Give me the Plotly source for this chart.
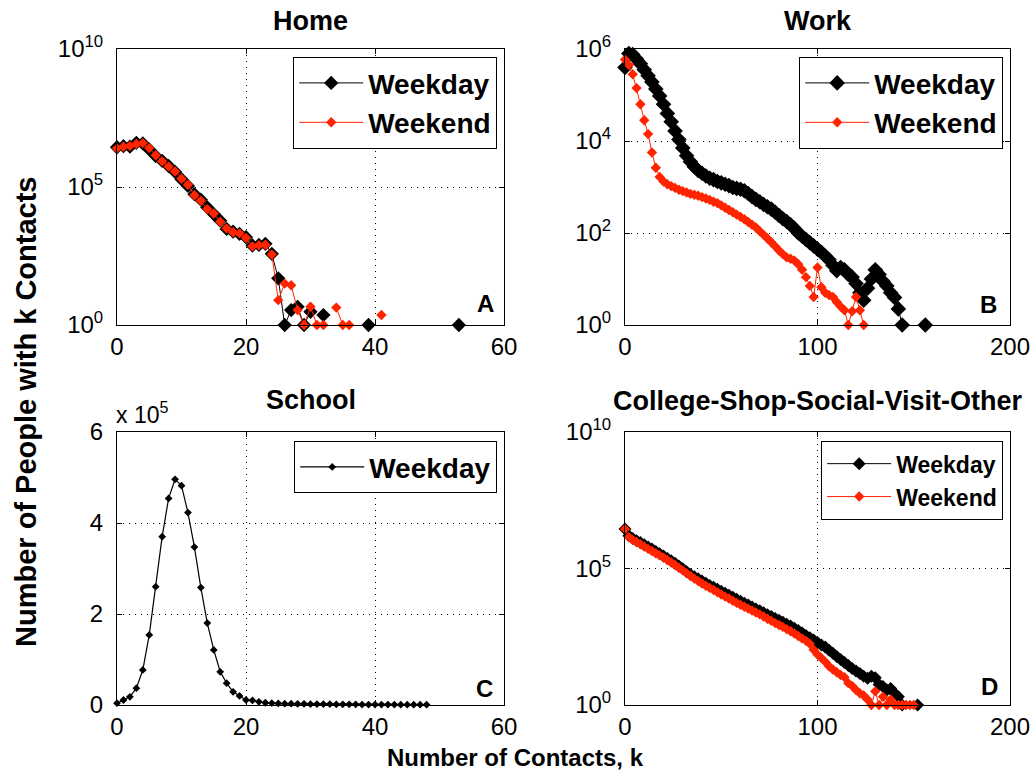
import plotly.graph_objects as go

W, H = 1033, 778
RED = "#ff2400"
FONT = "Liberation Sans"

# ---------------- data (log10 of counts for log panels) ----------------
# Panel A: Home
home_k_weekday = [0, 1, 2, 3, 4, 5, 6, 7, 8, 9, 10, 11, 12, 13, 14, 15, 16, 17, 18, 19, 20,
                  21, 22, 23, 24, 25, 26, 27, 28, 29, 30, 31, 32, 33, 39, 40, 53]
home_weekday_log10 = [6.44, 6.48, 6.46, 6.60, 6.58, 6.36, 6.12, 5.95, 5.76, 5.55, 5.28,
                      5.04, 4.74, 4.54, 4.26, 4.02, 3.78, 3.48, 3.38, 3.30, 3.18,
                      2.88, 2.90, 2.94, 2.58, 1.69, 0.0, 0.54, 0.66, 0.0, 0.48, None, 0.36, None,
                      0.0, None, 0.0]
home_k_weekend = [0, 1, 2, 3, 4, 5, 6, 7, 8, 9, 10, 11, 12, 13, 14, 15, 16, 17, 18, 19, 20,
                  21, 22, 23, 24, 25, 26, 27, 28, 29, 30, 31, 32, 33, 34, 35, 36, 37, 41]
home_weekend_log10 = [6.40, 6.46, 6.49, 6.56, 6.59, 6.41, 6.15, 5.93, 5.74, 5.56, 5.30,
                      5.08, 4.70, 4.50, 4.20, 4.04, 3.74, 3.50, 3.36, 3.32, 3.15,
                      2.85, 2.89, 2.91, 2.55, 0.90, 1.50, 1.44, 0.54, 0.0, 0.66, 0.0, 0.0, None,
                      0.63, 0.0, 0.0, None, 0.36]

# Panel B: Work
work_k_weekday = [0, 2, 4, 6, 8, 10, 12, 14, 16, 18, 20, 22, 24, 26, 28, 30, 32, 34, 36, 38,
                  40, 42, 44, 46, 48, 50, 52, 54, 56, 58, 60, 62, 64, 66, 68, 70, 72, 74, 76, 78,
                  80, 82, 84, 86, 88, 90, 92, 94, 96, 98, 100, 102, 104, 106, 108, 110, 112, 114,
                  116, 118, 120, 122, 124, 126, 128, 130, 132, 134, 136, 138, 140, 142, 144, 150, 156]
work_weekday_log10 = [5.60, 5.90, 5.88, 5.78, 5.68, 5.55, 5.42, 5.28, 5.13, 4.98,
                      4.80, 4.60, 4.42, 4.22, 4.03, 3.85, 3.68, 3.55, 3.44, 3.36,
                      3.30, 3.24, 3.19, 3.16, 3.12, 3.09, 3.06, 3.03, 2.99, 2.97,
                      2.95, 2.92, 2.86, 2.79, 2.73, 2.68, 2.62, 2.57, 2.52, 2.45,
                      2.38, 2.31, 2.25, 2.18, 2.10, 2.00, 1.93, 1.86, 1.79, 1.72,
                      1.65, 1.58, 1.50, 1.42, 1.30, 1.18, 1.25, 1.20, 1.10, 1.04,
                      0.90, 0.70, 0.54, 0.80, 1.00, 1.20, 1.10, 0.95, 0.85, 0.70,
                      0.60, 0.35, 0.0, None, 0.0]
work_k_weekend = [0, 2, 4, 6, 8, 10, 12, 14, 16, 18, 20, 22, 24, 26, 28, 30, 32, 34, 36, 38,
                  40, 42, 44, 46, 48, 50, 52, 54, 56, 58, 60, 62, 64, 66, 68, 70, 72, 74, 76, 78,
                  80, 82, 84, 86, 88, 90, 92, 94, 96, 98, 100, 102, 104, 106, 108, 110, 112, 114,
                  116, 118, 120, 122, 124]
work_weekend_log10 = [5.77, 5.65, 5.45, 5.15, 4.80, 4.45, 4.15, 3.75, 3.42, 3.22,
                      3.12, 3.06, 3.02, 2.98, 2.94, 2.91, 2.88, 2.85, 2.83, 2.81,
                      2.78, 2.75, 2.72, 2.68, 2.65, 2.60, 2.55, 2.50, 2.45, 2.40,
                      2.35, 2.30, 2.24, 2.18, 2.12, 2.04, 1.96, 1.88, 1.80, 1.71,
                      1.62, 1.54, 1.47, 1.44, 1.40, 1.32, 1.20, 1.04, 0.85, 0.61,
                      1.25, 0.82, 0.70, 0.65, 0.61, 0.50, 0.40, 0.32, 0.0, 0.30,
                      0.61, 0.32, 0.0]

# Panel C: School (number of people, linear)
school_k = [0, 1, 2, 3, 4, 5, 6, 7, 8, 9, 10, 11, 12, 13, 14, 15, 16, 17, 18, 19, 20,
            21, 22, 23, 24, 25, 26, 27, 28, 29, 30, 31, 32, 33, 34, 35, 36, 37, 38, 39, 40,
            41, 42, 43, 44, 45, 46, 47, 48]
school_weekday = [4000, 11000, 18000, 37000, 77000, 154000, 260000, 370000, 454000, 496000,
                  482000, 423000, 347000, 258000, 180000, 121000, 73000, 48000, 29000, 20000,
                  11000, 10000, 7000, 5000, 4000, 3500, 3000, 3000, 2500, 2500, 2000, 2000,
                  2000, 2000, 1500, 1500, 1500, 1500, 1000, 1000, 1000, 1000, 1000, 1000,
                  800, 800, 800, 800, 800]

# Panel D: College-Shop-Social-Visit-Other
other_k_weekday = [0, 2, 4, 6, 8, 10, 12, 14, 16, 18, 20, 22, 24, 26, 28, 30, 32, 34, 36, 38,
                   40, 42, 44, 46, 48, 50, 52, 54, 56, 58, 60, 62, 64, 66, 68, 70, 72, 74, 76, 78,
                   80, 82, 84, 86, 88, 90, 92, 94, 96, 98, 100, 102, 104, 106, 108, 110, 112, 114,
                   116, 118, 120, 122, 124, 126, 128, 130, 132, 134, 136, 138, 140, 142, 144, 148, 152]
other_weekday_log10 = [6.45, 6.20, 6.10, 6.02, 5.95, 5.87, 5.79, 5.71, 5.62, 5.54,
                       5.46, 5.37, 5.28, 5.19, 5.09, 4.99, 4.88, 4.78, 4.70, 4.62,
                       4.54, 4.46, 4.38, 4.31, 4.24, 4.17, 4.09, 4.02, 3.95, 3.87,
                       3.80, 3.73, 3.66, 3.59, 3.52, 3.45, 3.38, 3.31, 3.24, 3.17,
                       3.10, 3.03, 2.96, 2.89, 2.81, 2.73, 2.64, 2.55, 2.46, 2.38,
                       2.29, 2.20, 2.12, 2.01, 1.90, 1.78, 1.67, 1.56, 1.45, 1.34,
                       1.25, 1.15, 1.05, 0.98, 1.05, 1.00, 0.75, 0.68, 0.55, 0.60,
                       0.43, 0.30, 0.0, None, 0.0]
other_k_weekend = [0, 2, 4, 6, 8, 10, 12, 14, 16, 18, 20, 22, 24, 26, 28, 30, 32, 34, 36, 38,
                   40, 42, 44, 46, 48, 50, 52, 54, 56, 58, 60, 62, 64, 66, 68, 70, 72, 74, 76, 78,
                   80, 82, 84, 86, 88, 90, 92, 94, 96, 98, 100, 102, 104, 106, 108, 110, 112, 114,
                   116, 118, 120, 122, 124, 126, 128, 130, 132, 134, 136, 138, 140, 142, 144, 146,
                   148, 150]
other_weekend_log10 = [6.45, 6.15, 6.05, 5.97, 5.89, 5.80, 5.72, 5.64, 5.56, 5.48,
                       5.40, 5.31, 5.22, 5.13, 5.03, 4.93, 4.83, 4.73, 4.63, 4.54,
                       4.45, 4.37, 4.29, 4.21, 4.13, 4.05, 3.97, 3.90, 3.82, 3.74,
                       3.67, 3.60, 3.53, 3.46, 3.39, 3.32, 3.24, 3.16, 3.08, 3.00,
                       2.93, 2.86, 2.78, 2.70, 2.62, 2.53, 2.44, 2.35, 2.24, 2.02,
                       1.85, 1.72, 1.58, 1.42, 1.30, 1.20, 1.10, 1.02, 0.80, 0.70,
                       0.55, 0.43, 0.35, 0.20, 0.0, 0.50, 0.0, 0.30, 0.0, 0.20,
                       0.0, 0.0, 0.0, 0.0, 0.0, 0.0]

log_ticks_5 = [1, 1e5, 1e10]
log_ticks_5_text = ["10<sup>0</sup>", "10<sup>5</sup>", "10<sup>10</sup>"]
log_ticks_2 = [1, 1e2, 1e4, 1e6]
log_ticks_2_text = ["10<sup>0</sup>", "10<sup>2</sup>", "10<sup>4</sup>", "10<sup>6</sup>"]
school_ticks = [0, 2e5, 4e5, 6e5]
school_ticks_text = ["0", "2", "4", "6"]


def counts(logs):
    return [None if v is None else 10 ** v for v in logs]


def px_x(p):
    return p / W


def px_y(p):
    return 1 - p / H


fig = go.Figure()


def add_pair(kx, vx, ky, vy, xa, ya, leg, wd_size, we_size):
    fig.add_trace(go.Scatter(x=kx, y=vx, mode="lines+markers", name="Weekday",
                             line=dict(color="black", width=1),
                             marker=dict(symbol="diamond", size=wd_size, color="black"),
                             xaxis=xa, yaxis=ya, legend=leg, cliponaxis=False,
                             connectgaps=False))
    fig.add_trace(go.Scatter(x=ky, y=vy, mode="lines+markers", name="Weekend",
                             line=dict(color=RED, width=1),
                             marker=dict(symbol="diamond", size=we_size, color=RED),
                             xaxis=xa, yaxis=ya, legend=leg, cliponaxis=False,
                             connectgaps=False))


add_pair(home_k_weekday, counts(home_weekday_log10), home_k_weekend, counts(home_weekend_log10),
         "x", "y", "legend", 11, 8)
add_pair(work_k_weekday, counts(work_weekday_log10), work_k_weekend, counts(work_weekend_log10),
         "x2", "y2", "legend2", 12, 8)
fig.add_trace(go.Scatter(x=school_k, y=school_weekday, mode="lines+markers", name="Weekday",
                         line=dict(color="black", width=1.2),
                         marker=dict(symbol="diamond", size=6, color="black"),
                         xaxis="x3", yaxis="y3", legend="legend3", cliponaxis=False))
add_pair(other_k_weekday, counts(other_weekday_log10), other_k_weekend, counts(other_weekend_log10),
         "x4", "y4", "legend4", 10, 8)

# ---------------- axes ----------------
xl, xr = [px_x(117), px_x(504)], [px_x(625), px_x(1010)]
yt, yb = [px_y(325), px_y(49)], [px_y(705), px_y(432)]

axis_common = dict(showline=True, linecolor="black", linewidth=1, mirror="ticks",
                   ticks="inside", ticklen=5, tickcolor="black", showgrid=True,
                   gridcolor="black", gridwidth=1, griddash="1px,5px", zeroline=False,
                   automargin=False,
                   tickfont=dict(family=FONT, size=24, color="black"))

fig.update_layout(
    xaxis=dict(domain=xl, anchor="y", range=[0, 60], tickvals=[0, 20, 40, 60], **axis_common),
    yaxis=dict(domain=yt, anchor="x", type="log", range=[0, 10], tickvals=log_ticks_5,
               ticktext=log_ticks_5_text, ticklabelstandoff=8, **axis_common),
    xaxis2=dict(domain=xr, anchor="y2", range=[0, 200], tickvals=[0, 100, 200], **axis_common),
    yaxis2=dict(domain=yt, anchor="x2", type="log", range=[0, 6], tickvals=log_ticks_2,
                ticktext=log_ticks_2_text, ticklabelstandoff=8, **axis_common),
    xaxis3=dict(domain=xl, anchor="y3", range=[0, 60], tickvals=[0, 20, 40, 60], **axis_common),
    yaxis3=dict(domain=yb, anchor="x3", range=[0, 6e5], tickvals=school_ticks,
                ticktext=school_ticks_text, ticklabelstandoff=8, **axis_common),
    xaxis4=dict(domain=xr, anchor="y4", range=[0, 200], tickvals=[0, 100, 200], **axis_common),
    yaxis4=dict(domain=yb, anchor="x4", type="log", range=[0, 10], tickvals=log_ticks_5,
                ticktext=log_ticks_5_text, ticklabelstandoff=8, **axis_common),
)

leg_common = dict(bgcolor="white", bordercolor="black", borderwidth=1.2, itemwidth=64,
                  xanchor="right", yanchor="top", tracegroupgap=0, itemclick=False)
big_leg_font = dict(family=FONT, size=28, color="black", weight="bold")
fig.update_layout(
    legend=dict(x=px_x(497), y=px_y(57), font=big_leg_font, **leg_common),
    legend2=dict(x=px_x(1003), y=px_y(57), font=big_leg_font, **leg_common),
    legend3=dict(x=px_x(497), y=px_y(441), font=big_leg_font, **leg_common),
    legend4=dict(x=px_x(1003), y=px_y(441),
                 font=dict(family=FONT, size=23, color="black", weight="bold"), **leg_common),
)

# ---------------- text ----------------
ann = []
title_font = dict(family=FONT, size=27, color="black", weight="bold")
for txt, cx, cy in [("Home", 310.5, 21), ("Work", 817.5, 21), ("School", 310.5, 400),
                    ("College-Shop-Social-Visit-Other", 818, 401)]:
    ann.append(dict(text=txt, x=px_x(cx), y=px_y(cy), xref="paper", yref="paper",
                    xanchor="center", yanchor="middle", showarrow=False, font=title_font))
letter_font = dict(family=FONT, size=24, color="black", weight="bold")
for txt, cx, cy in [("A", 485, 303), ("B", 988, 304), ("C", 484, 688), ("D", 989, 686)]:
    ann.append(dict(text=txt, x=px_x(cx), y=px_y(cy), xref="paper", yref="paper",
                    xanchor="center", yanchor="middle", showarrow=False, font=letter_font))
ann.append(dict(text="x 10<sup>5</sup>", x=px_x(114), y=px_y(413), xref="paper", yref="paper",
                xanchor="left", yanchor="middle", showarrow=False,
                font=dict(family=FONT, size=23, color="black")))
ann.append(dict(text="Number of People with k Contacts", x=px_x(26), y=px_y(412),
                xref="paper", yref="paper", xanchor="center", yanchor="middle",
                textangle=-90, showarrow=False,
                font=dict(family=FONT, size=29, color="black", weight="bold")))
ann.append(dict(text="Number of Contacts, k", x=px_x(515), y=px_y(757),
                xref="paper", yref="paper", xanchor="center", yanchor="middle",
                showarrow=False, font=dict(family=FONT, size=24, color="black", weight="bold")))

fig.update_layout(width=W, height=H,
                  margin=dict(l=0, r=0, t=0, b=0, pad=0, autoexpand=False),
                  paper_bgcolor="white", plot_bgcolor="white", annotations=ann,
                  font=dict(family=FONT, color="black"))

fig.write_html("out.html")
